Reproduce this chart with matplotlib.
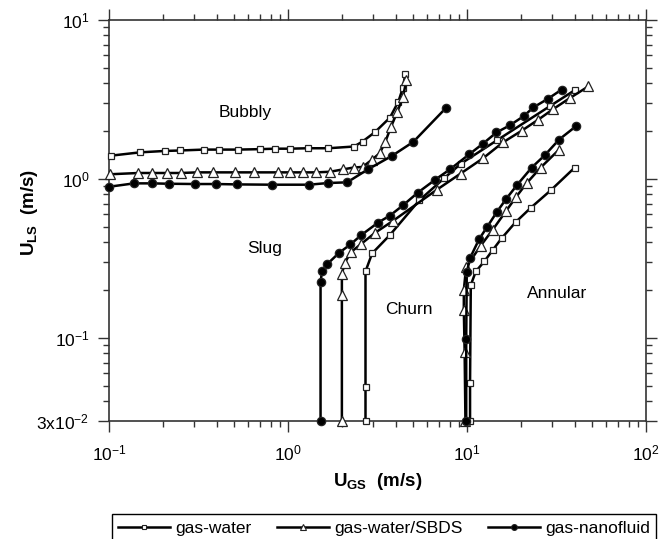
import matplotlib
matplotlib.use("Agg")
import matplotlib.pyplot as plt
from matplotlib.lines import Line2D

plt.rcParams['font.family'] = ['Liberation Sans', 'DejaVu Sans']
plt.rcParams['mathtext.fontset'] = 'custom'
plt.rcParams['mathtext.rm'] = 'Liberation Sans'
plt.rcParams['mathtext.it'] = 'Liberation Sans:italic'
plt.rcParams['mathtext.bf'] = 'Liberation Sans:bold'

# ---------------- data (U_GS, U_LS in m/s) ----------------
# gas-water (squares)
water_bubbly_x = [0.102, 0.149, 0.205, 0.249, 0.338, 0.414, 0.529, 0.701, 0.847, 1.02, 1.29, 1.68,
                  2.34, 2.61, 3.06, 3.71, 4.14, 4.38, 4.52]
water_bubbly_y = [1.40, 1.47, 1.50, 1.51, 1.53, 1.53, 1.53, 1.54, 1.55, 1.55, 1.56, 1.56,
                  1.60, 1.72, 1.97, 2.43, 3.07, 3.74, 4.55]
water_slug_x = [2.71, 2.71, 2.71, 2.95, 3.71, 5.41, 7.45, 9.27, 14.7, 28.9, 40.0]
water_slug_y = [0.03, 0.049, 0.262, 0.34, 0.444, 0.733, 1.01, 1.25, 1.75, 2.86, 3.62]
water_annular_x = [10.4, 10.4, 10.5, 11.2, 12.5, 13.9, 15.6, 18.7, 22.7, 29.4, 40.0]
water_annular_y = [0.03, 0.052, 0.215, 0.262, 0.303, 0.356, 0.423, 0.535, 0.658, 0.849, 1.18]

# gas-water/SBDS (triangles)
sbds_bubbly_x = [0.101, 0.146, 0.174, 0.210, 0.251, 0.311, 0.380, 0.505, 0.644, 0.875, 1.02, 1.22,
                 1.44, 1.72, 2.04, 2.33, 2.61, 2.94, 3.25, 3.49, 3.75, 4.08, 4.38, 4.59]
sbds_bubbly_y = [1.07, 1.09, 1.09, 1.09, 1.09, 1.10, 1.10, 1.10, 1.10, 1.10, 1.10, 1.10,
                 1.10, 1.11, 1.15, 1.18, 1.19, 1.32, 1.45, 1.70, 2.11, 2.64, 3.26, 4.17]
sbds_slug_x = [2.0, 2.0, 2.0, 2.08, 2.25, 2.57, 3.07, 3.87, 6.78, 9.2, 12.3, 15.9, 20.2, 25.0,
               30.3, 37.6, 47.6]
sbds_slug_y = [0.03, 0.187, 0.253, 0.298, 0.347, 0.391, 0.459, 0.546, 0.855, 1.08, 1.35, 1.70,
               2.01, 2.36, 2.75, 3.23, 3.82]
sbds_annular_x = [9.8, 9.7, 9.6, 9.6, 9.88, 11.9, 13.9, 16.6, 18.8, 21.5, 25.8, 32.7]
sbds_annular_y = [0.03, 0.0815, 0.149, 0.20, 0.278, 0.379, 0.478, 0.633, 0.77, 0.938, 1.18, 1.53]

# gas-nanofluid (filled circles)
nano_bubbly_x = [0.1, 0.138, 0.174, 0.215, 0.302, 0.397, 0.519, 0.811, 1.31, 1.68, 2.14, 2.80,
                 3.82, 5.01, 7.59]
nano_bubbly_y = [0.893, 0.938, 0.938, 0.933, 0.929, 0.929, 0.924, 0.920, 0.920, 0.943, 0.952,
                 1.15, 1.40, 1.71, 2.78]
nano_slug_x = [1.52, 1.52, 1.55, 1.65, 1.93, 2.23, 2.57, 3.19, 3.71, 4.38, 5.31, 6.65, 8.04,
               10.3, 12.3, 14.6, 17.3, 20.7, 23.5, 28.4, 33.8]
nano_slug_y = [0.03, 0.225, 0.263, 0.29, 0.343, 0.387, 0.444, 0.532, 0.588, 0.681, 0.82, 0.99,
               1.15, 1.43, 1.67, 1.96, 2.17, 2.48, 2.82, 3.2, 3.65]
nano_annular_x = [9.9, 9.9, 9.97, 10.4, 11.7, 12.9, 14.7, 16.6, 19.1, 23.0, 27.2, 32.7, 40.5]
nano_annular_y = [0.03, 0.098, 0.258, 0.318, 0.419, 0.495, 0.621, 0.752, 0.92, 1.18, 1.41,
                  1.77, 2.14]

series_names = ['gas-water', 'gas-water/SBDS', 'gas-nanofluid']
region_names = ['Bubbly', 'Slug', 'Churn', 'Annular']
region_x = [0.578, 0.743, 4.74, 32.0]
region_y = [2.61, 0.365, 0.151, 0.19]

x_ticks = [0.1, 1, 10, 100]
x_tick_labels = [r'$10^{-1}$', r'$10^{0}$', r'$10^{1}$', r'$10^{2}$']
y_ticks = [0.03, 0.1, 1, 10]
y_tick_labels = [r'$3\mathrm{x}10^{-2}$', r'$10^{-1}$', r'$10^{0}$', r'$10^{1}$']

# ---------------- figure ----------------
fig = plt.figure(figsize=(6.64, 5.39), dpi=100)
ax = fig.add_axes([109/664, 1 - 421/539, (646-109)/664, (421-20)/539])

styles = {
    'gas-water': dict(marker='s', markersize=5.0, markerfacecolor='white'),
    'gas-water/SBDS': dict(marker='^', markersize=6.5, markerfacecolor='white'),
    'gas-nanofluid': dict(marker='o', markersize=6.0, markerfacecolor='black'),
}
curves = {
    'gas-water': [(water_bubbly_x, water_bubbly_y), (water_slug_x, water_slug_y),
                  (water_annular_x, water_annular_y)],
    'gas-water/SBDS': [(sbds_bubbly_x, sbds_bubbly_y), (sbds_slug_x, sbds_slug_y),
                       (sbds_annular_x, sbds_annular_y)],
    'gas-nanofluid': [(nano_bubbly_x, nano_bubbly_y), (nano_slug_x, nano_slug_y),
                      (nano_annular_x, nano_annular_y)],
}
for name in series_names:
    st = styles[name]
    for cx, cy in curves[name]:
        ax.plot(cx, cy, color='black', lw=1.8, markeredgecolor='#222222',
                markeredgewidth=0.9, clip_on=False, zorder=3, **st)

ax.set_xscale('log')
ax.set_yscale('log')
ax.set_xlim(0.1, 100)
ax.set_ylim(0.03, 10)
ax.set_xticks(x_ticks)
ax.set_xticklabels(x_tick_labels)
ax.set_yticks(y_ticks)
ax.set_yticklabels(y_tick_labels)
ax.tick_params(which='both', direction='out', top=True, right=True, labelsize=12.5,
               color='#333333')
ax.tick_params(which='major', length=8, width=1.0, pad=6)
ax.tick_params(which='minor', length=4.5, width=1.0)
ax.tick_params(axis='x', which='major', pad=8)
for s in ax.spines.values():
    s.set_linewidth(1.2)
    s.set_color('#333333')

for name, rx, ry in zip(region_names, region_x, region_y):
    ax.text(rx, ry, name, fontsize=12.5, ha='center', va='center')

ax.set_xlabel(r'$\mathbf{U_{GS}}$  (m/s)', fontsize=13.5, fontweight='bold', labelpad=6)
ax.set_ylabel(r'$\mathbf{U_{LS}}$  (m/s)', fontsize=13.5, fontweight='bold')
ax.yaxis.set_label_coords((40 - 109) / 537, 0.52)

handles = []
for name in series_names:
    st = dict(styles[name])
    st['markersize'] = st['markersize'] * 0.7
    handles.append(Line2D([], [], color='black', lw=1.8, markeredgecolor='#222222',
                          markeredgewidth=0.8, **st))
leg = fig.legend(handles, series_names, loc='lower center', ncol=3,
                 bbox_to_anchor=((111 + 657) / 2 / 664, -0.005),
                 borderaxespad=0, fontsize=12.5, handlelength=3.0, handletextpad=0.3,
                 columnspacing=1.45, fancybox=False, framealpha=1, edgecolor='black',
                 borderpad=0.35)
leg.get_frame().set_linewidth(1.0)

fig.savefig('out.png', dpi=100)
